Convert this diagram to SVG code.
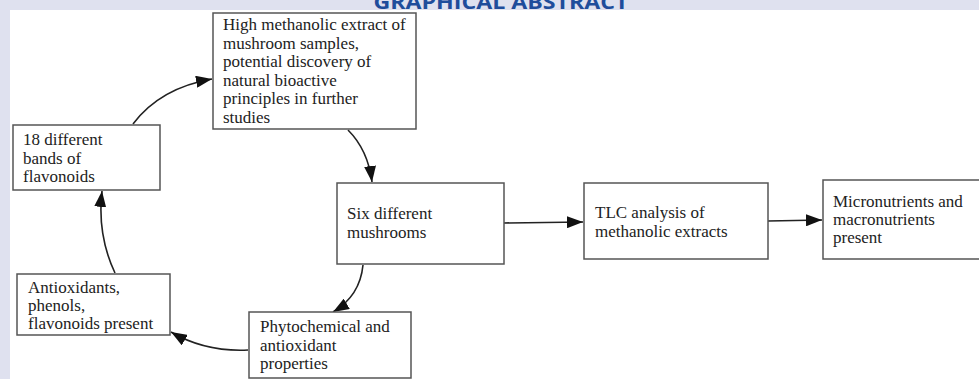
<svg xmlns="http://www.w3.org/2000/svg" width="979" height="379" viewBox="0 0 979 379">
<defs>
<style>
.box{fill:#fff;stroke:#555;stroke-width:1.5}
.t{font-family:"Liberation Serif","Times New Roman",serif;font-size:17px;fill:#222}
.c{fill:none;stroke:#222;stroke-width:1.6}
.title{font-family:"Open Sans","Liberation Sans",sans-serif;font-weight:bold;font-size:20px;fill:#1f4d9b}
</style>
<marker id="ah" markerUnits="userSpaceOnUse" markerWidth="16" markerHeight="12" refX="16" refY="6" orient="auto">
<path d="M0,0 L16,6 L0,12 z" fill="#111"/>
</marker>
</defs>
<rect x="0" y="0" width="979" height="379" fill="#dfe1ef"/>
<rect x="10" y="10" width="969" height="369" fill="#fff"/>
<text class="title" x="501" y="9" text-anchor="middle" textLength="255" lengthAdjust="spacingAndGlyphs">GRAPHICAL ABSTRACT</text>

<g id="connectors">
<path class="c" d="M133,124 Q160,88 212,79" marker-end="url(#ah)"/>
<path class="c" d="M348,130 Q368,150 372,182" marker-end="url(#ah)"/>
<path class="c" d="M363,265 Q360,296 333,312" marker-end="url(#ah)"/>
<path class="c" d="M248,350 Q205,352 171,332" marker-end="url(#ah)"/>
<path class="c" d="M115,273 Q97,235 102,191" marker-end="url(#ah)"/>
<path class="c" d="M504,223 L583,222" marker-end="url(#ah)"/>
<path class="c" d="M768,221 L822,220" marker-end="url(#ah)"/>
</g>

<g id="n-high">
<rect class="box" x="213" y="13" width="203" height="116"/>
<text class="t" x="223" y="30">High methanolic extract of</text>
<text class="t" x="223" y="48.6">mushroom samples,</text>
<text class="t" x="223" y="67.2">potential discovery of</text>
<text class="t" x="223" y="85.8">natural bioactive</text>
<text class="t" x="223" y="104.4">principles in further</text>
<text class="t" x="223" y="123">studies</text>
</g>

<g id="n-bands">
<rect class="box" x="13" y="125" width="147" height="65"/>
<text class="t" x="23" y="145">18 different</text>
<text class="t" x="23" y="163.5">bands of</text>
<text class="t" x="23" y="182">flavonoids</text>
</g>

<g id="n-antiox">
<rect class="box" x="17" y="274" width="153" height="61"/>
<text class="t" x="28" y="293">Antioxidants,</text>
<text class="t" x="28" y="311">phenols,</text>
<text class="t" x="28" y="329">flavonoids present</text>
</g>

<g id="n-phyto">
<rect class="box" x="249" y="312" width="162" height="66"/>
<text class="t" x="260" y="332">Phytochemical and</text>
<text class="t" x="260" y="350.5">antioxidant</text>
<text class="t" x="260" y="369">properties</text>
</g>

<g id="n-six">
<rect class="box" x="337" y="183" width="167" height="81"/>
<text class="t" x="347" y="219">Six different</text>
<text class="t" x="347" y="237.5">mushrooms</text>
</g>

<g id="n-tlc">
<rect class="box" x="584" y="183" width="184" height="76"/>
<text class="t" x="595" y="218">TLC analysis of</text>
<text class="t" x="595" y="236.5">methanolic extracts</text>
</g>

<g id="n-micro">
<rect class="box" x="823" y="180" width="170" height="79"/>
<text class="t" x="833" y="207">Micronutrients and</text>
<text class="t" x="833" y="225">macronutrients</text>
<text class="t" x="833" y="243">present</text>
</g>
</svg>
